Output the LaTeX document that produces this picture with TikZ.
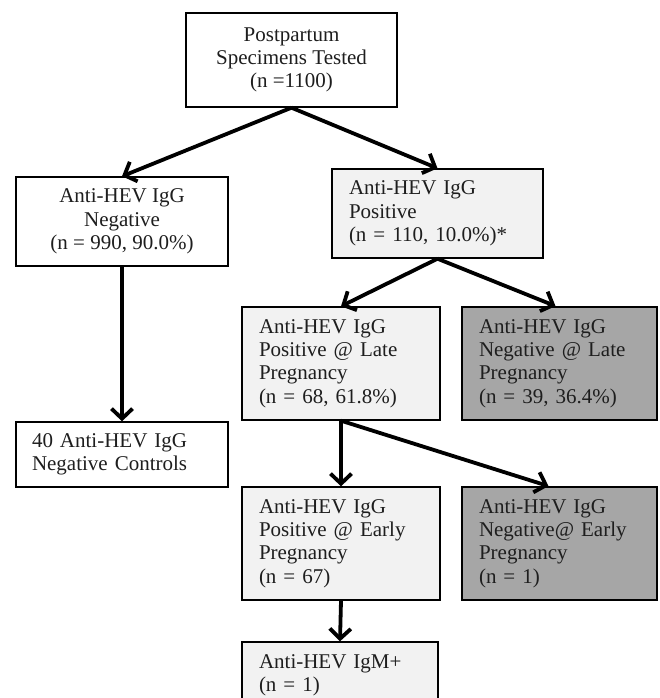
\documentclass[tikz,border=0pt]{standalone}
\usepackage{fontspec}
\setmainfont{Liberation Serif}
\usepackage{xcolor}
\usetikzlibrary{positioning,arrows.meta}
\definecolor{lightfill}{RGB}{242,242,242}
\definecolor{darkfill}{RGB}{166,166,166}
\definecolor{inkgray}{RGB}{30,30,30}

\begin{document}
\begin{tikzpicture}[x=1pt, y=-1pt, node distance=218.5pt, font=\fontsize{21}{23.3}\selectfont, text=inkgray]
    \tikzstyle{plainbox} = [rectangle, draw=black, line width=1.4pt, fill=white, align=center, inner xsep=8pt, inner ysep=0pt]
    \tikzstyle{lightbox} = [rectangle, draw=black, line width=1.4pt, fill=lightfill, align=left, inner xsep=17pt, inner ysep=0pt]
    \tikzstyle{darkbox} = [lightbox, fill=darkfill, line width=1.8pt]
    \tikzstyle{flow} = [line width=3.8pt, -{Straight Barb[length=10pt, width=21pt]}]

    \useasboundingbox (0,0) rectangle (660,698);
    \clip (0,0) rectangle (660,698);

    % Specimens and first split
    \node [plainbox, minimum width=211pt, minimum height=94pt] (tested) at (291.5,60) {Postpartum\\Specimens Tested\\(n =1100)};
    \node [plainbox, minimum width=212pt, minimum height=89pt] (neg) at (122,221.5) {Anti-HEV IgG\\Negative\\(n = 990, 90.0\%)};
    \node [lightbox, text width=177pt, minimum height=89pt] (pos) at (437.5,213.5) {Anti-HEV IgG\\Positive\\(n = 110, 10.0\%)*};
    \node [plainbox, align=left, inner xsep=16pt, text width=180pt, minimum height=65pt] (controls) at (122,454.5) {40 Anti-HEV IgG\\Negative Controls};

    % Late pregnancy
    \node [lightbox, text width=164pt, minimum height=113pt] (latepos) at (341,363.5) {Anti-HEV IgG\\Positive @ Late\\Pregnancy\\(n = 68, 61.8\%)};
    \node [darkbox, text width=161pt, minimum height=113pt, right of=latepos] (lateneg) {Anti-HEV IgG\\Negative @ Late\\Pregnancy\\(n = 39, 36.4\%)};

    % Early pregnancy
    \node [lightbox, text width=164pt, minimum height=113pt] (earlypos) at (341,543.5) {Anti-HEV IgG\\Positive @ Early\\Pregnancy\\(n = 67)};
    \node [darkbox, text width=161pt, minimum height=113pt, right of=earlypos] (earlyneg) {Anti-HEV IgG\\Negative@ Early\\Pregnancy\\(n = 1)};
    \node [lightbox, text width=162pt, minimum height=66pt] (igm) at (340,675) {Anti-HEV IgM+\\(n = 1)};

    % Arrows
    \draw [flow] (tested.south) -- (neg.north);
    \draw [flow] (tested.south) -- (pos.north);
    \draw [flow] (neg.south) -- (controls.north);
    \draw [flow] (pos.south) -- (latepos.north);
    \draw [flow] (pos.south) -- ([xshift=-4pt]lateneg.north);
    \draw [flow] (latepos.south) -- (earlypos.north);
    \draw [flow] (latepos.south) -- ([xshift=-11pt]earlyneg.north);
    \draw [flow] (earlypos.south) -- (igm.north);
\end{tikzpicture}
\end{document}
